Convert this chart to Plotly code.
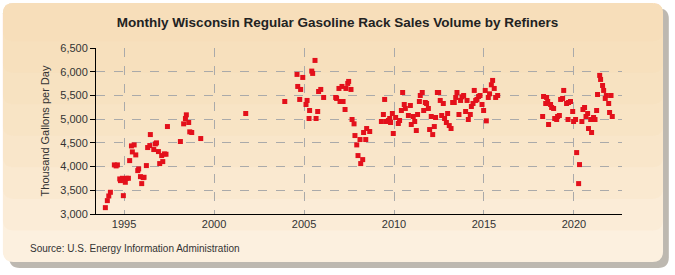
import plotly.graph_objects as go

# decimal year of each month and its volume (thousand gallons per day)
years_a = [1993.96, 1994.07, 1994.15, 1994.24, 1994.46, 1994.56, 1994.63, 1994.76, 1994.80, 1994.91,
           1994.96, 1995.07, 1995.13, 1995.24, 1995.31, 1995.41, 1995.46, 1995.56, 1995.65, 1995.76,
           1995.81, 1995.91, 1995.98, 1996.06, 1996.11, 1996.24, 1996.31, 1996.43, 1996.46, 1996.65,
           1996.74, 1996.80, 1996.91, 1996.98, 1997.09, 1997.15, 1997.24, 1997.33, 1997.41, 1998.13,
           1998.31, 1998.41, 1998.46, 1998.59, 1998.65, 1998.76, 1999.26]
vals_a = [3134, 3282, 3380, 3458, 4035, 4014, 4035, 3739, 3704, 3753,
          3387, 3669, 3753, 3753, 4126, 4436, 4309, 4457, 4246, 3915,
          3950, 3788, 3641, 3767, 3774, 4021, 4401, 4443, 4675, 4359,
          4478, 4500, 4316, 4063, 4232, 4105, 4267, 4260, 4844, 4528,
          4901, 5013, 5091, 4929, 4732, 4718, 4591]

years_b = [2001.76, 2003.93, 2004.61, 2004.65, 2004.76, 2004.81, 2004.93, 2005.11, 2005.17, 2005.28,
           2005.31, 2005.43, 2005.48, 2005.61, 2005.67, 2005.76, 2005.81, 2005.93, 2006.09, 2006.76,
           2006.81, 2006.94, 2007.00, 2007.11, 2007.17, 2007.28, 2007.33, 2007.43, 2007.48, 2007.61,
           2007.67, 2007.78, 2007.83, 2007.93, 2008.00, 2008.11, 2008.15, 2008.26, 2008.31, 2008.43,
           2008.48, 2008.65]
vals_b = [5119, 5372, 5943, 5689, 5415, 5626, 5879, 5309, 5394, 5014,
          5182, 6013, 5964, 6238, 5014, 5161, 5583, 5626, 5457, 5457,
          5436, 5647, 5372, 5689, 5372, 5203, 5647, 5753, 5795, 5626,
          4992, 4901, 4654, 4457, 4232, 4570, 4063, 4147, 4718, 4570,
          4802, 4739]

years_c = [2009.30, 2009.41, 2009.48, 2009.57, 2009.69, 2009.76, 2009.81, 2009.91, 2009.96, 2010.09,
           2010.24, 2010.31, 2010.41, 2010.48, 2010.57, 2010.63, 2010.80, 2010.91, 2010.96, 2011.07,
           2011.15, 2011.24, 2011.31, 2011.41, 2011.46, 2011.57, 2011.65, 2011.74, 2011.81, 2011.91,
           2011.98, 2012.07, 2012.15, 2012.24, 2012.31, 2012.41, 2012.48, 2012.57, 2012.65, 2012.74,
           2012.81, 2012.91, 2012.98, 2013.07, 2013.17, 2013.26, 2013.35, 2013.43, 2013.50, 2013.61,
           2013.70, 2013.78, 2013.87, 2013.98, 2014.06, 2014.13, 2014.24, 2014.30, 2014.39, 2014.46,
           2014.54, 2014.61, 2014.70, 2014.78, 2014.89, 2014.98, 2015.07, 2015.13, 2015.24, 2015.31,
           2015.41, 2015.48, 2015.57, 2015.65, 2015.76]
vals_c = [4950, 5098, 5415, 4950, 4971, 5014, 4929, 5119, 4697, 5035,
          4908, 4971, 5182, 5562, 5309, 5225, 5077, 5288, 4887, 5056,
          4950, 4760, 5098, 5372, 5499, 5562, 5182, 5351, 5330, 5225,
          4781, 5056, 4675, 4844, 5035, 5562, 5562, 5394, 5077, 5330,
          5014, 4929, 5119, 4865, 4802, 5351, 5351, 5457, 5562, 5098,
          5394, 5471, 5499, 5161, 5394, 4992, 5098, 5267, 5330, 5605,
          5394, 5415, 5478, 5499, 5309, 5182, 5605, 4964, 5457, 5534,
          5724, 5816, 5647, 5457, 5499]

years_d = [2018.26, 2018.31, 2018.43, 2018.48, 2018.54, 2018.59, 2018.70, 2018.76, 2018.87, 2018.93,
           2019.04, 2019.09, 2019.19, 2019.26, 2019.37, 2019.43, 2019.59, 2019.67, 2019.70, 2019.81,
           2019.93, 2019.98, 2020.09, 2020.15, 2020.26, 2020.31, 2020.44, 2020.50, 2020.59, 2020.67,
           2020.76, 2020.81, 2020.93, 2020.98, 2021.09, 2021.17, 2021.26, 2021.31, 2021.43, 2021.48,
           2021.59, 2021.65, 2021.74, 2021.80, 2021.93, 2021.98, 2022.06, 2022.13]
vals_d = [5056, 5478, 5330, 5457, 5372, 4887, 5309, 5246, 5225, 5014,
          4992, 5056, 5077, 5415, 5436, 5605, 5330, 4992, 5351, 5372,
          5161, 4950, 4992, 4295, 3641, 4042, 4950, 5203, 5246, 5056,
          5119, 4802, 4992, 4718, 5035, 4992, 5182, 5520, 5922, 5837,
          5710, 5605, 5436, 5499, 5330, 5140, 5499, 5056]

years = years_a + years_b + years_c + years_d
volumes = vals_a + vals_b + vals_c + vals_d

x_ticks = [1995, 2000, 2005, 2010, 2015, 2020]
y_ticks = [3000, 3500, 4000, 4500, 5000, 5500, 6000, 6500]

fig = go.Figure()
fig.add_trace(go.Scatter(
    x=years, y=volumes, mode="markers",
    marker=dict(symbol="square", size=5, color="#E3101B", line=dict(width=0)),
    showlegend=False))


def rounded(x0, y0, x1, y1, rx, ry):
    return (f"M{x0+rx},{y0} L{x1-rx},{y0} Q{x1},{y0} {x1},{y0+ry} L{x1},{y1-ry} Q{x1},{y1} {x1-rx},{y1} "
            f"L{x0+rx},{y1} Q{x0},{y1} {x0},{y1-ry} L{x0},{y0+ry} Q{x0},{y0} {x0+rx},{y0} Z")


# grey shadow, then the beige frame (top darker than bottom, faked with stacked layers)
rx, ry = 0.02, 0.065
fig.add_shape(type="path", xref="paper", yref="paper", layer="below",
              path=rounded(-0.165, -0.325, 1.089, 1.24, rx, ry),
              fillcolor="#BDB8B0", line=dict(width=0))
fig.add_shape(type="path", xref="paper", yref="paper", layer="below",
              path=rounded(-0.177, -0.289, 1.078, 1.271, rx, ry),
              fillcolor="#FDF4E8", line=dict(width=0))
for i in range(8):
    bottom = -0.289 + i * 0.19
    fig.add_shape(type="path", xref="paper", yref="paper", layer="below",
                  path=rounded(-0.177, bottom, 1.078, 1.271, rx, ry),
                  fillcolor="#F3D7A6", opacity=0.12, line=dict(width=0))

fig.update_layout(
    width=675, height=275,
    margin=dict(l=96, r=53, t=48, b=61),
    paper_bgcolor="white", plot_bgcolor="white",
    title=dict(text="<b>Monthly Wisconsin Regular Gasoline Rack Sales Volume by Refiners</b>",
               x=0.5, xanchor="center", y=0.92, yanchor="middle",
               font=dict(family="Liberation Sans Narrow, Arial Narrow, Arial", size=13.5, color="#222")),
    font=dict(family="Arial, Liberation Sans", size=11, color="#333"),
    xaxis=dict(range=[1993.44, 2022.67], tickvals=x_ticks, ticktext=[str(t) for t in x_ticks],
               showgrid=True, gridcolor="#AAAAAA", griddash="dash", gridwidth=1,
               showline=True, linecolor="black", linewidth=1, ticks="", zeroline=False),
    yaxis=dict(range=[3000, 6500], tickvals=y_ticks, tickformat=",d",
               showgrid=True, gridcolor="#AAAAAA", griddash="dash", gridwidth=1,
               showline=True, linecolor="black", linewidth=1, ticks="outside", ticklen=5,
               tickcolor="black", zeroline=False,
               title=dict(text="Thousand Gallons per Day", font=dict(size=11), standoff=8)),
)
fig.add_annotation(text="Source: U.S. Energy Information Administration", xref="paper", yref="paper",
                   x=-0.129, y=-0.205, xanchor="left", yanchor="middle", showarrow=False,
                   font=dict(size=10, color="#333"))

fig.write_html("out.html", config={"displayModeBar": False},
               post_script="document.body.style.margin='0';")
